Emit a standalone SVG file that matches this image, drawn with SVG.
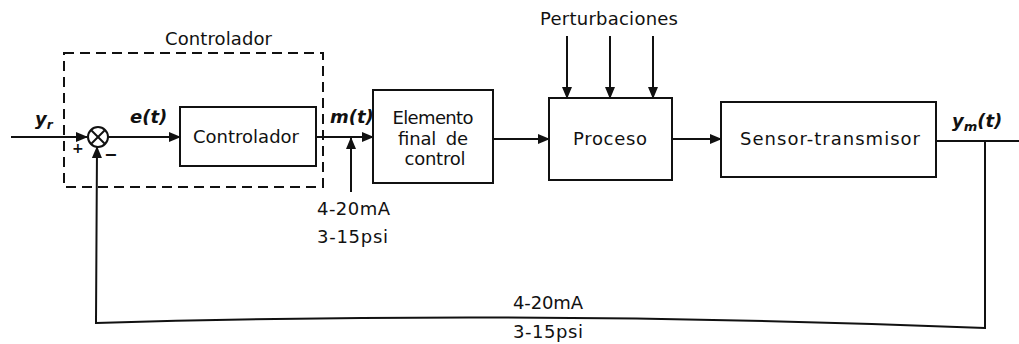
<svg xmlns="http://www.w3.org/2000/svg" width="1019" height="344" viewBox="0 0 1019 344">
<style>
.box{fill:#fff;stroke:#111;stroke-width:2}
.ln{fill:none;stroke:#111;stroke-width:2}
.dash{fill:none;stroke:#111;stroke-width:2;stroke-dasharray:10 6}
text{font-family:"DejaVu Sans","Liberation Sans",sans-serif;font-size:18px;fill:#111}
.it{font-style:italic;font-weight:bold;font-size:18px}
.c{text-anchor:middle}
</style>
<defs>
<marker id="ah" markerWidth="12" markerHeight="10" refX="11" refY="5" orient="auto" markerUnits="userSpaceOnUse">
<path d="M0,0 L12,5 L0,10 Z" fill="#111"/>
</marker>
</defs>
<rect width="1019" height="344" fill="#fff"/>

<g id="controller-frame">
<rect class="dash" x="64" y="53" width="259" height="134"/>
<text x="165" y="45" textLength="107">Controlador</text>
</g>

<g id="connectors">
<line class="ln" x1="11" y1="137" x2="87" y2="137" marker-end="url(#ah)"/>
<line class="ln" x1="108" y1="137" x2="180" y2="137" marker-end="url(#ah)"/>
<line class="ln" x1="316" y1="137" x2="373" y2="137" marker-end="url(#ah)"/>
<line class="ln" x1="351" y1="192" x2="351" y2="138" marker-end="url(#ah)"/>
<line class="ln" x1="493" y1="139" x2="549" y2="139" marker-end="url(#ah)"/>
<line class="ln" x1="567" y1="36" x2="567" y2="98" marker-end="url(#ah)"/>
<line class="ln" x1="610" y1="36" x2="610" y2="98" marker-end="url(#ah)"/>
<line class="ln" x1="653" y1="36" x2="653" y2="98" marker-end="url(#ah)"/>
<line class="ln" x1="672" y1="139" x2="721" y2="139" marker-end="url(#ah)"/>
<line class="ln" x1="936" y1="141" x2="1019" y2="141"/>
<path class="ln" d="M985,141 L985,328 Q540,310 96,323 L97,147" marker-end="url(#ah)"/>
</g>

<g id="sum">
<circle cx="98" cy="137" r="10" fill="#fff" stroke="#111" stroke-width="2"/>
<line class="ln" x1="91" y1="130" x2="105" y2="144"/>
<line class="ln" x1="105" y1="130" x2="91" y2="144"/>
<text x="72" y="153" style="font-size:14px;font-weight:bold">+</text>
<text x="104" y="160" style="font-size:16px;font-weight:bold">−</text>
</g>

<g id="controlador">
<rect class="box" x="180" y="107" width="136" height="59"/>
<text class="c" x="246" y="143" textLength="106">Controlador</text>
</g>

<g id="elemento">
<rect class="box" x="373" y="90" width="120" height="93"/>
<text class="c" x="433" y="124" textLength="81">Elemento</text>
<text class="c" x="433" y="145" textLength="70" style="word-spacing:4px">final de</text>
<text class="c" x="435" y="165" textLength="61">control</text>
</g>

<g id="proceso">
<rect class="box" x="549" y="98" width="123" height="82"/>
<text class="c" x="610" y="145" textLength="74">Proceso</text>
</g>

<g id="sensor">
<rect class="box" x="721" y="102" width="215" height="75"/>
<text class="c" x="830" y="145" textLength="180">Sensor-transmisor</text>
</g>

<g id="labels">
<text x="540" y="25" textLength="138">Perturbaciones</text>
<text class="it" x="35" y="125">y<tspan dy="4" style="font-size:12px">r</tspan></text>
<text class="it" x="130" y="123">e(t)</text>
<text class="it" x="330" y="123">m(t)</text>
<text class="it" x="952" y="127">y<tspan dy="4" style="font-size:13px">m</tspan><tspan dy="-4">(t)</tspan></text>
<text x="317" y="215" textLength="73">4-20mA</text>
<text x="317" y="243" textLength="71">3-15psi</text>
<text x="513" y="309" textLength="70">4-20mA</text>
<text x="513" y="338" textLength="70">3-15psi</text>
</g>
</svg>
